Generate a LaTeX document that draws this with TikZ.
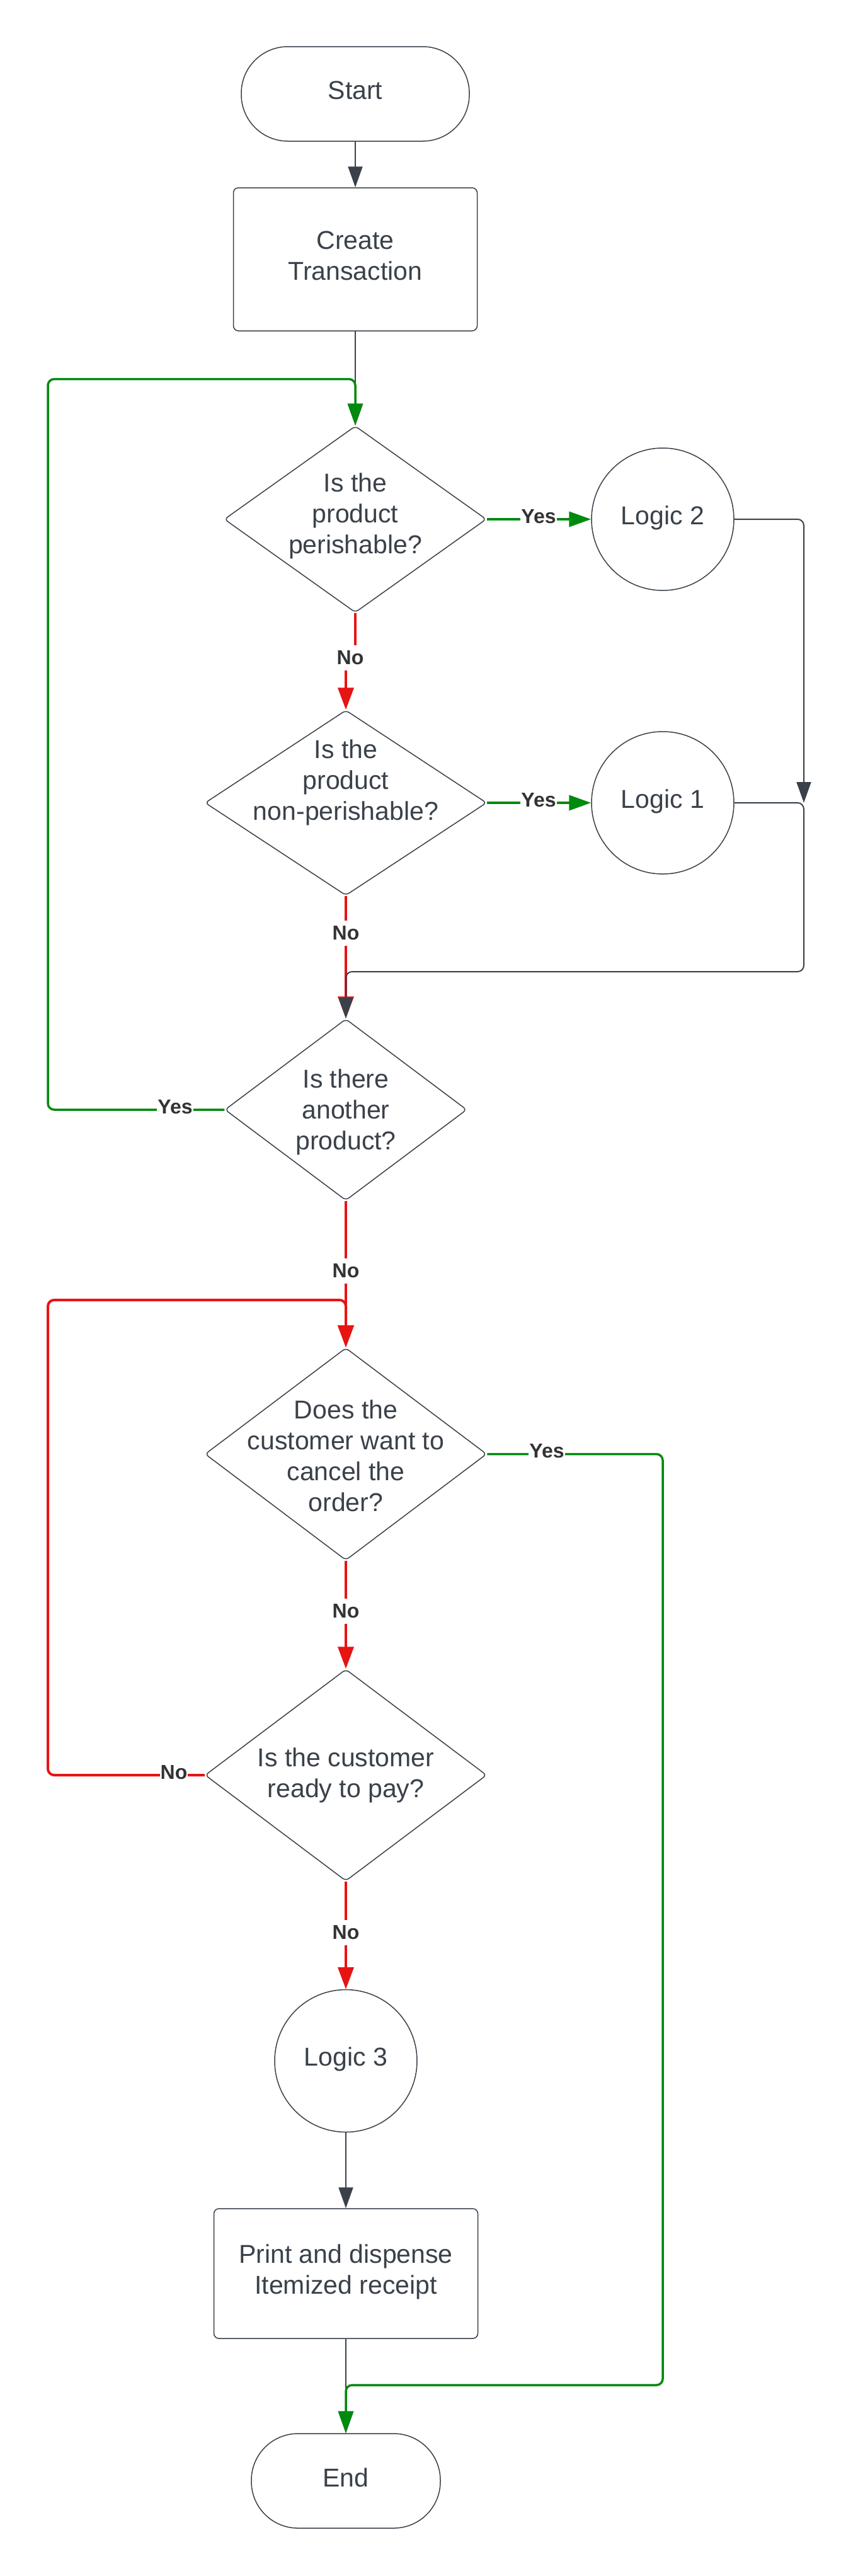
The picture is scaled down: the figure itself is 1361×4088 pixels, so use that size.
\documentclass[tikz,border=0pt]{standalone}
\usepackage{fontspec}
\setmainfont{Liberation Sans}
\usetikzlibrary{arrows.meta,shapes.geometric}
\definecolor{ink}{HTML}{3A414A}
\definecolor{lblink}{HTML}{333333}
\definecolor{okgreen}{HTML}{008A0E}
\definecolor{nored}{HTML}{E81313}
\begin{document}
\begin{tikzpicture}[x=1pt,y=-1pt,
  shapeline/.style={draw=ink, line width=1.5pt, fill=white},
  terminal/.style={shapeline, rectangle, rounded corners=74pt, inner sep=0pt},
  procbox/.style={shapeline, rectangle, rounded corners=8pt, inner sep=0pt},
  decision/.style={shapeline, diamond, rounded corners=6pt, inner sep=0pt},
  logicnode/.style={shapeline, circle, inner sep=0pt, minimum size=226pt},
  nodetext/.style={text=ink, font=\fontsize{41}{49}\selectfont, align=center, inner sep=0pt},
  lbl/.style={fill=white, text=lblink, font=\fontsize{32}{38}\selectfont\bfseries,
    inner xsep=1pt, inner ysep=9pt},
  grayflow/.style={draw=ink, line width=2pt, -{Triangle[length=33pt,width=23pt]}},
  yesflow/.style={draw=okgreen, line width=3.5pt, -{Triangle[length=35pt,width=24pt]}},
  noflow/.style={draw=nored, line width=4pt, -{Triangle[length=35pt,width=25pt]}},
]
\useasboundingbox (0,0) rectangle (1361,4088);
\fill[white] (0,0) rectangle (1361,4088);

% shapes
\node[terminal, minimum width=362pt, minimum height=150pt] (start) at (564,149) {};
\node[procbox, minimum width=387pt, minimum height=227pt] (create) at (564,411.5) {};
\node[decision, minimum width=416pt, minimum height=296pt] (d1) at (564,824) {};
\node[logicnode] (l2) at (1052,824) {};
\node[decision, minimum width=447pt, minimum height=294pt] (d2) at (549,1274) {};
\node[logicnode] (l1) at (1052,1274) {};
\node[decision, minimum width=384pt, minimum height=288pt] (d3) at (549,1761) {};
\node[decision, minimum width=447pt, minimum height=337pt] (d4) at (549,2307.5) {};
\node[decision, minimum width=447pt, minimum height=336pt] (d5) at (549,2817) {};
\node[logicnode] (l3) at (549,3270.5) {};
\node[procbox, minimum width=419pt, minimum height=206pt] (print) at (549,3608) {};
\node[terminal, minimum width=300pt, minimum height=150pt] (end) at (549,3937) {};

% texts
\node[nodetext] (startt) at ([yshift=5.5pt]start.center) {Start};
\node[nodetext] (createt) at ([yshift=5.5pt]create.center) {Create\\Transaction};
\node[nodetext] (d1t) at ([yshift=5pt]d1.center) {Is the\\product\\perishable?};
\node[nodetext] (l2t) at ([yshift=2.5pt]l2.center) {Logic 2};
\node[nodetext] (d2t) at ([yshift=32pt]d2.center) {Is the\\product\\non-perishable?};
\node[nodetext] (l1t) at ([yshift=2.5pt]l1.center) {Logic 1};
\node[nodetext] (d3t) at ([yshift=-3.5pt]d3.center) {Is there\\another\\product?};
\node[nodetext] (d4t) at ([yshift=-3pt]d4.center) {Does the\\customer want to\\cancel the\\order?};
\node[nodetext] (d5t) at (d5.center) {Is the customer\\ready to pay?};
\node[nodetext] (l3t) at ([yshift=2.5pt]l3.center) {Logic 3};
\node[nodetext] (printt) at ([yshift=2.5pt]print.center) {Print and dispense\\Itemized receipt};
\node[nodetext] (endt) at ([yshift=5pt]end.center) {End};

% bend points
\coordinate (j1) at (1276,1274);
\coordinate (j1b) at (1276,1542);
\coordinate (j1c) at (549,1542);
\coordinate (g1a) at (76,1761);
\coordinate (g1b) at (76,601.6);
\coordinate (g1c) at (564,601.6);
\coordinate (r1a) at (564,1045);
\coordinate (r1b) at (549,1045);
\coordinate (g2a) at (1052,2307.5);
\coordinate (g2b) at (1052,3785);
\coordinate (g2c) at (549,3785);
\coordinate (r2a) at (76,2817);
\coordinate (r2b) at (76,2063);
\coordinate (r2c) at (549,2063);

% connectors
\draw[grayflow] (start) -- (create);
\draw[grayflow] (create) -- (d1);
\draw[yesflow] (d1) -- (l2);
\draw[noflow] (d1.south) -- (r1a) -- (r1b) -- (d2.north);
\draw[yesflow] (d2) -- (l1);
\draw[grayflow, rounded corners=10pt] (l2.east) -| (j1);
\draw[noflow] (d2) -- (d3);
\draw[grayflow, rounded corners=10pt] (l1.east) -- (j1) -- (j1b) -- (j1c) -- (d3.north);
\draw[yesflow, rounded corners=10pt] (d3.west) -- (g1a) -- (g1b) -- (g1c) -- (d1.north);
\draw[noflow] (d3) -- (d4);
\draw[noflow] (d4) -- (d5);
\draw[noflow, rounded corners=10pt] (d5.west) -- (r2a) -- (r2b) -- (r2c) -- (d4.north);
\draw[noflow] (d5) -- (l3);
\draw[grayflow] (l3) -- (print);
\draw[grayflow] (print) -- (end);
\draw[yesflow, rounded corners=10pt] (d4.east) -- (g2a) -- (g2b) -- (g2c) -- (end.north);

% labels
\node[lbl] (y1) at (855,820) {Yes};
\node[lbl] (n1) at (556,1044) {No};
\node[lbl] (y2) at (855,1270) {Yes};
\node[lbl] (n2) at (549,1481) {No};
\node[lbl] (y3) at (278,1757) {Yes};
\node[lbl] (n3) at (549,2017) {No};
\node[lbl] (y4) at (868,2303) {Yes};
\node[lbl] (n4) at (549,2557) {No};
\node[lbl] (n5) at (276,2813) {No};
\node[lbl] (n6) at (549,3067) {No};
\end{tikzpicture}
\end{document}
